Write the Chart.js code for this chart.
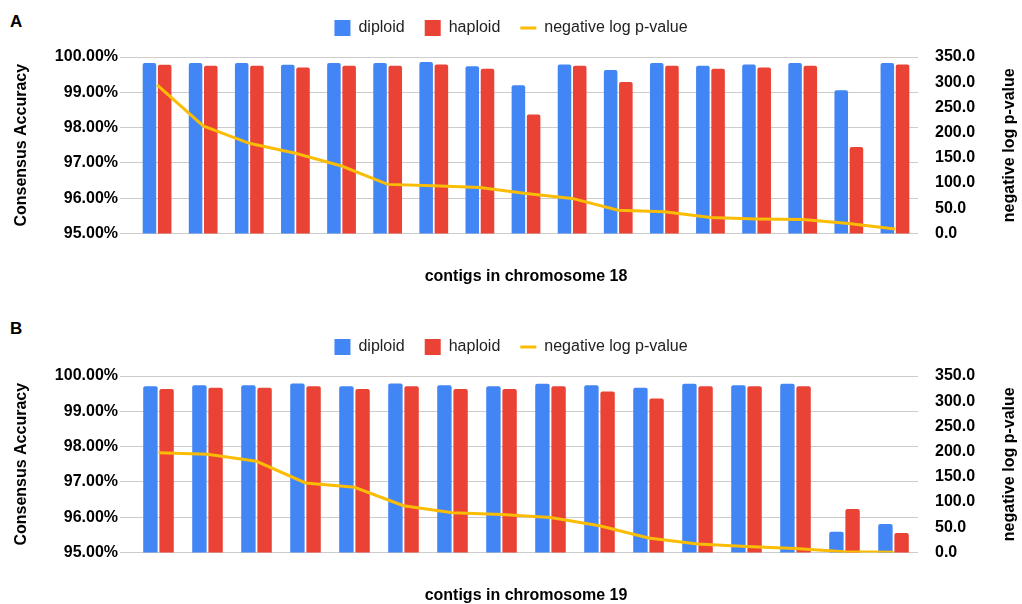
<!DOCTYPE html>
<html>
<head>
<meta charset="utf-8">
<script src="https://cdn.jsdelivr.net/npm/chart.js@4.4.1/dist/chart.umd.min.js"></script>
<style>
  body { margin: 0; background: #fff; font-family: "Liberation Sans", Arial, sans-serif; }
  #page { position: relative; width: 1022px; height: 604px; }
  .panel { position: absolute; left: 0; }
  .tag { position: absolute; left: 10px; font-weight: bold; font-size: 17px; line-height: 20px; color: #000; }
</style>
</head>
<body>
<div id="page">
  <div class="tag" style="top:12px">A</div>
  <div class="tag" style="top:319px">B</div>
  <canvas id="chartA" class="panel" style="top:0" width="1022" height="286"></canvas>
  <canvas id="chartB" class="panel" style="top:319px" width="1022" height="286"></canvas>
</div>
<script>
// chromosome 18 contigs
const contigs18 = ['c18-1', 'c18-2', 'c18-3', 'c18-4', 'c18-5', 'c18-6', 'c18-7', 'c18-8', 'c18-9',
  'c18-10', 'c18-11', 'c18-12', 'c18-13', 'c18-14', 'c18-15', 'c18-16', 'c18-17'];
const diploid18 = [99.83, 99.83, 99.83, 99.78, 99.83, 99.83, 99.86, 99.74, 99.20, 99.79, 99.63, 99.83, 99.75, 99.79, 99.83, 99.06, 99.83];
const haploid18 = [99.78, 99.75, 99.75, 99.70, 99.75, 99.75, 99.79, 99.67, 98.37, 99.75, 99.29, 99.75, 99.67, 99.70, 99.75, 97.45, 99.79];
const pvalue18 = [294.8, 213.3, 178.9, 159.0, 133.8, 97.4, 94.6, 91.4, 79.5, 69.6, 46.3, 43.0, 31.8, 29.0, 27.8, 19.9, 9.1];

// chromosome 19 contigs
const contigs19 = ['c19-1', 'c19-2', 'c19-3', 'c19-4', 'c19-5', 'c19-6', 'c19-7', 'c19-8',
  'c19-9', 'c19-10', 'c19-11', 'c19-12', 'c19-13', 'c19-14', 'c19-15', 'c19-16'];
const diploid19 = [99.71, 99.74, 99.74, 99.79, 99.71, 99.79, 99.74, 99.71, 99.78, 99.74, 99.67, 99.78, 99.74, 99.78, 95.59, 95.81];
const haploid19 = [99.63, 99.67, 99.67, 99.71, 99.63, 99.71, 99.63, 99.63, 99.71, 99.56, 99.36, 99.71, 99.71, 99.71, 96.23, 95.55];
const pvalue19 = [197.6, 194.8, 180.9, 137.9, 129.2, 92.8, 78.9, 75.5, 69.6, 53.1, 28.6, 16.7, 11.9, 8.0, 1.4, 0.5];

// axis ticks
const accuracyRange = [95, 100];
const pvalueRange = [0, 350];

const FONT = '"Liberation Sans", Arial, sans-serif';
const BLUE = '#4285F4';
const RED = '#EA4335';
const YELLOW = '#FBBC04';
const GRID = '#cccccc';

// push the plot area down a bit below the legend
const legendGap = {
  id: 'legendGap',
  beforeInit(chart) {
    const fit = chart.legend.fit;
    chart.legend.fit = function () {
      fit.call(this);
      this.height += 11;
    };
  }
};

// right axis title reads bottom-to-top like the left one
const rightTitle = {
  id: 'rightTitle',
  afterDraw(chart, args, opts) {
    const s = chart.scales.y2;
    const { ctx, chartArea } = chart;
    ctx.save();
    ctx.translate(s.right - 12, (chartArea.top + chartArea.bottom) / 2);
    ctx.rotate(-Math.PI / 2);
    ctx.font = 'bold 16px ' + FONT;
    ctx.fillStyle = '#000';
    ctx.textAlign = 'center';
    ctx.textBaseline = 'middle';
    ctx.fillText(opts.text, 0, 0);
    ctx.restore();
  }
};

function makeChart(canvasId, labels, diploid, haploid, pvalue, xTitle) {
  const ctx = document.getElementById(canvasId).getContext('2d');
  return new Chart(ctx, {
    type: 'bar',
    data: {
      labels: labels,
      datasets: [
        {
          label: 'diploid',
          data: diploid,
          backgroundColor: BLUE,
          borderRadius: 2,
          pointStyle: 'rect',
          yAxisID: 'y',
          order: 1
        },
        {
          label: 'haploid',
          data: haploid,
          backgroundColor: RED,
          borderRadius: 2,
          pointStyle: 'rect',
          yAxisID: 'y',
          order: 1
        },
        {
          type: 'line',
          label: 'negative log p-value',
          data: pvalue,
          borderColor: YELLOW,
          backgroundColor: YELLOW,
          borderWidth: 3,
          pointRadius: 0,
          pointStyle: 'line',
          tension: 0,
          yAxisID: 'y2',
          order: 0
        }
      ]
    },
    options: {
      responsive: false,
      animation: false,
      datasets: {
        bar: { categoryPercentage: 0.66, barPercentage: 0.89 }
      },
      layout: { padding: 0 },
      plugins: {
        tooltip: { enabled: false },
        rightTitle: { text: 'negative log p-value' },
        legend: {
          position: 'top',
          labels: {
            usePointStyle: true,
            pointStyleWidth: 16,
            boxHeight: 16,
            padding: 20,
            color: '#222',
            font: { family: FONT, size: 16 },
            sort: (a, b) => a.datasetIndex - b.datasetIndex
          }
        }
      },
      scales: {
        x: {
          grid: { display: false },
          border: { display: false },
          ticks: { display: false },
          title: {
            display: true,
            text: xTitle,
            color: '#000',
            font: { family: FONT, size: 16, weight: 'bold' },
            padding: { top: 0, bottom: 0 }
          },
          afterFit(scale) { scale.height = scale.chart.height - 233.5; }
        },
        y: {
          position: 'left',
          min: accuracyRange[0],
          max: accuracyRange[1],
          border: { display: false },
          grid: { color: GRID, drawTicks: true, tickLength: 14 },
          ticks: {
            stepSize: 1,
            padding: 2,
            color: '#000',
            font: { family: FONT, size: 16, weight: 'bold' },
            callback: v => v.toFixed(2) + '%'
          },
          title: {
            display: true,
            text: 'Consensus Accuracy',
            color: '#000',
            font: { family: FONT, size: 16, weight: 'bold' },
            padding: { top: 12, bottom: 0 }
          },
          afterFit(scale) { scale.width = 134; }
        },
        y2: {
          position: 'right',
          min: pvalueRange[0],
          max: pvalueRange[1],
          border: { display: false },
          grid: { display: false, drawOnChartArea: false, drawTicks: false },
          ticks: {
            stepSize: 50,
            padding: 17,
            color: '#000',
            font: { family: FONT, size: 16, weight: 'bold' },
            callback: v => v.toFixed(1)
          },
          title: { display: false },
          afterFit(scale) { scale.width = 104; }
        }
      }
    },
    plugins: [legendGap, rightTitle]
  });
}

makeChart('chartA', contigs18, diploid18, haploid18, pvalue18, 'contigs in chromosome 18');
makeChart('chartB', contigs19, diploid19, haploid19, pvalue19, 'contigs in chromosome 19');
</script>
</body>
</html>
